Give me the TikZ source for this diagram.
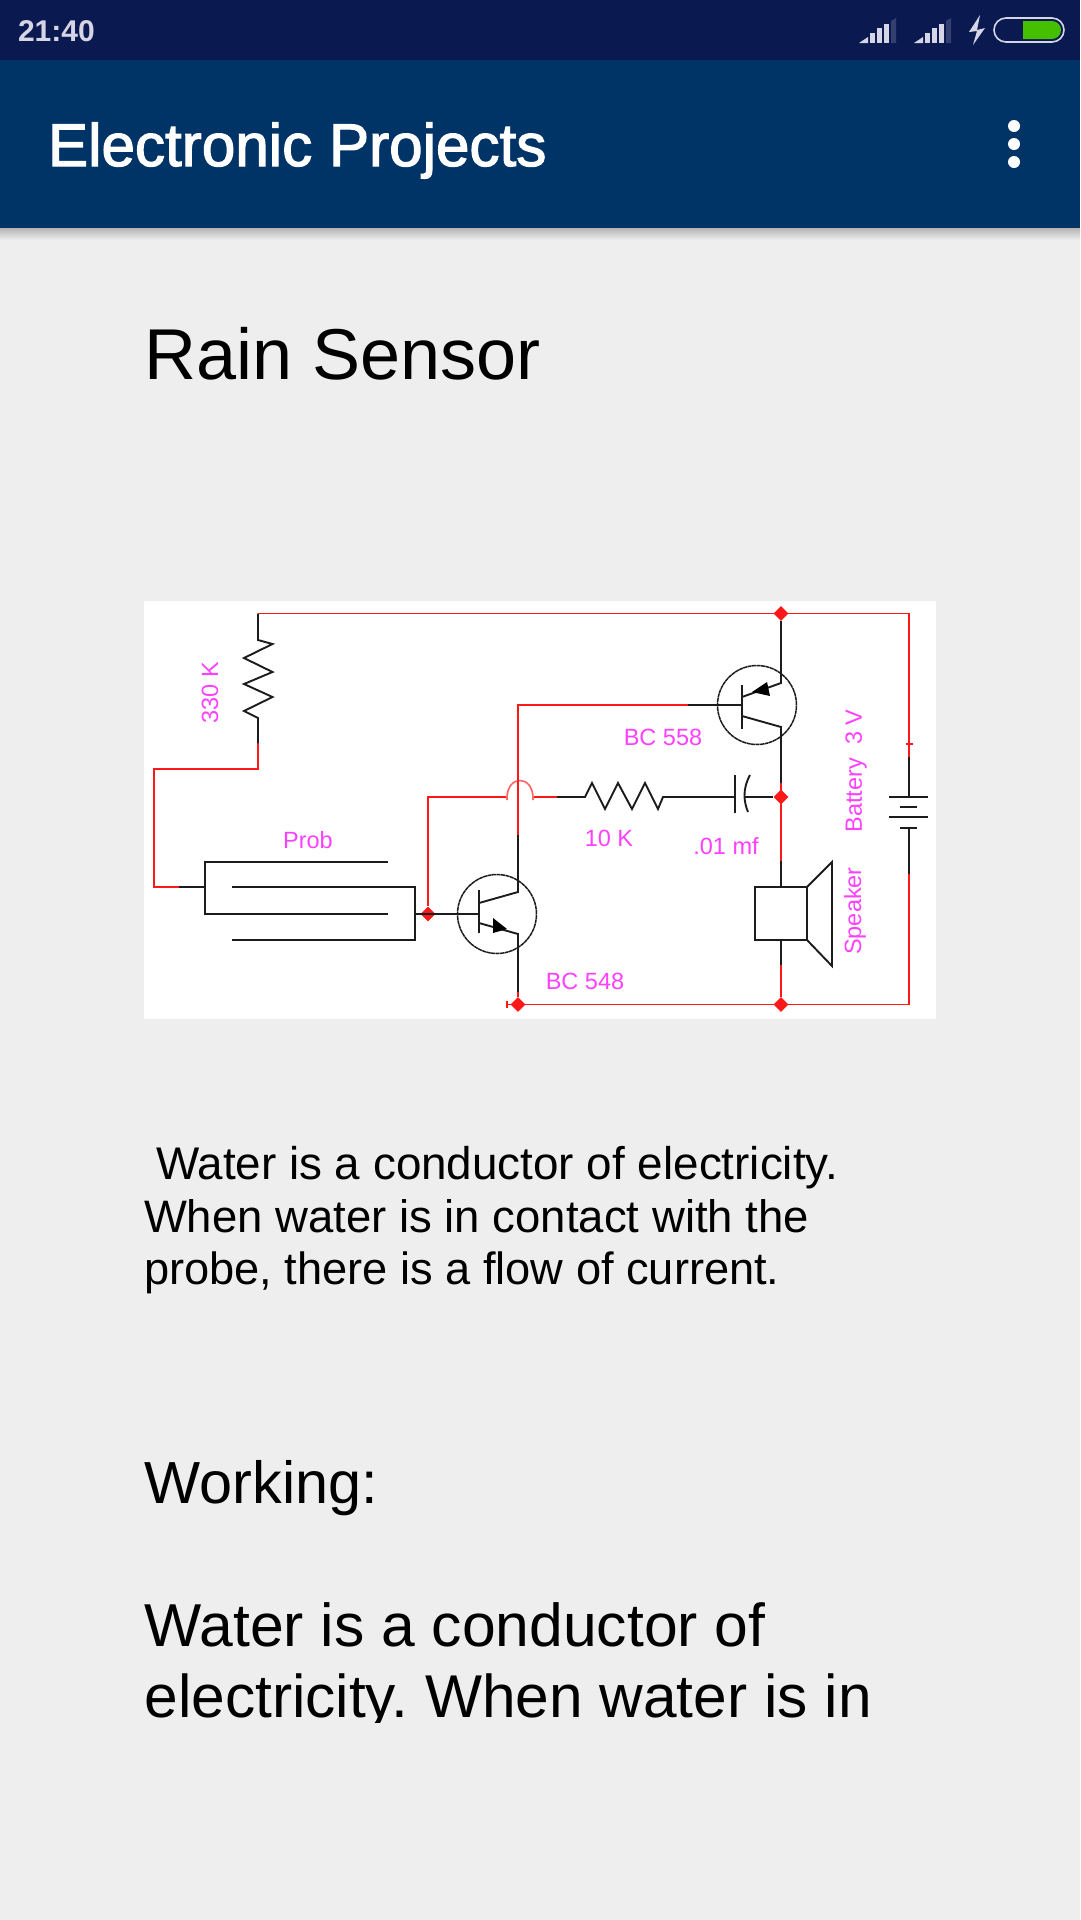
\documentclass[tikz,border=0pt]{standalone}
\usepackage{fontspec}
\usetikzlibrary{shapes.geometric}
\setmainfont{Liberation Sans}
\newfontfamily\medfont[FakeBold=2]{Liberation Sans}
\definecolor{pagebg}{HTML}{EEEEEE}
\definecolor{statusbg}{HTML}{0A1A50}
\definecolor{appbg}{HTML}{003366}
\definecolor{shadowc}{HTML}{B4B4B4}
\definecolor{iconc}{HTML}{D5D5E5}
\definecolor{icondim}{HTML}{333F6E}
\definecolor{battgreen}{HTML}{44C000}
\definecolor{wirered}{HTML}{FF1818}
\definecolor{wireblack}{HTML}{1C1C1C}
\definecolor{labelpink}{HTML}{FF40FF}
\newcommand{\fs}[1]{\fontsize{#1}{#1}\selectfont}
\frenchspacing
\tikzset{
  txt/.style={anchor=base west,inner sep=0pt,outer sep=0pt,text=black},
  redw/.style={draw=wirered,line width=1.9pt,line join=miter},
  blkw/.style={draw=wireblack,line width=1.9pt,line join=miter},
  thinw/.style={draw=wireblack,line width=1.5pt},
  junction/.style={diamond,fill=wirered,inner sep=0pt,minimum size=15pt},
  pinklab/.style={inner sep=0pt,text=labelpink,font=\fs{23.5}},
  bar/.style={fill=iconc},
  dimbar/.style={fill=icondim},
}
\begin{document}
\begin{tikzpicture}[x=1pt,y=-1pt]
\useasboundingbox (0,0) rectangle (1080,1920);
\fill[pagebg] (0,0) rectangle (1080,1920);
% status and app bars
\shade[top color=shadowc,bottom color=pagebg] (0,228) rectangle (1080,240);
\fill[statusbg] (0,0) rectangle (1080,60);
\fill[appbg] (0,60) rectangle (1080,228);
\node[txt,text=iconc,font=\fs{30}\bfseries] (clock) at (18,41) {21:40};
\node[txt,text=white,font=\fs{60.2}\medfont] (apptitle) at (48,166) {Electronic Projects};
\foreach \ox in {0,55}{
  \fill[bar] (859+\ox,43) -- (868+\ox,37) -- (868+\ox,43) -- cycle;
  \fill[bar] (870+\ox,43) rectangle (875+\ox,33);
  \fill[bar] (877+\ox,43) rectangle (882+\ox,28);
  \fill[bar] (884+\ox,43) rectangle (889+\ox,24);
  \fill[dimbar] (891+\ox,43) -- (891+\ox,21) -- (896+\ox,18) -- (896+\ox,43) -- cycle;
}
\fill[iconc] (980,15) -- (969,32) -- (977,31) -- (973,45) -- (985,28) -- (977,30) -- cycle;
\draw[iconc,line width=1.6pt,rounded corners=12pt] (994,18) rectangle (1064,42);
\fill[battgreen] (1023,21) [rounded corners=9pt] -- (1061,21) -- (1061,39) [sharp corners] -- (1023,39) -- cycle;
\foreach \dy in {126,144,162}{\fill[white] (1014,\dy) circle (6pt);}
% page texts
\node[txt,font=\fs{72}] (title) at (144.5,379) {Rain Sensor};
\node[txt,font=\fs{45.8}] (b1) at (156,1179) {Water is a conductor of electricity.};
\node[txt,font=\fs{45.5}] (b2) at (144,1232) {When water is in contact with the};
\node[txt,font=\fs{45.2}] (b3) at (144,1284) {probe, there is a flow of current.};
\node[txt,font=\fs{59.4}] (work) at (144.5,1503) {Working:};
\begin{scope}
\clip (0,1580) rectangle (1080,1722);
\node[txt,font=\fs{60.6}] (w1) at (144.5,1646) {Water is a conductor of};
\node[txt,font=\fs{60.4}] (w2) at (144.5,1717) {electricity. When water is in};
\end{scope}
% circuit panel
\fill[white] (144,601) rectangle (936,1019);
% junctions
\node[junction] (jtop) at (781,613.5) {};
\node[junction] (jmid) at (781,797) {};
\node[junction] (jbot) at (781,1004.5) {};
\node[junction] (jc)   at (518,1004.5) {};
\node[junction] (jb)   at (428,914) {};
% key points
\coordinate (tl) at (258,613.5);
\coordinate (tr) at (909,613.5);
\coordinate (br) at (909,1004.5);
\coordinate (bl) at (507,1004.5);
\coordinate (r1a) at (258,640);
\coordinate (r1b) at (258,718);
\coordinate (r1k) at (258,743);
\coordinate (r1c) at (258,769);
\coordinate (lc) at (154,769);
\coordinate (ld) at (154,887);
\coordinate (pk) at (179,887);
\coordinate (p1) at (205,887);
\coordinate (t2b) at (479,914);
\coordinate (t2c) at (518,892);
\coordinate (t2e) at (518,934);
\coordinate (t1b) at (742,705);
\coordinate (t1e) at (781,683);
\coordinate (t1c) at (781,727);
\coordinate (hopa) at (507,797);
\coordinate (hopb) at (533,797);
% red wires
\draw[redw] (r1k) -- (r1c) -- (lc) -- (ld) -- (pk);
\draw[redw] (tl) -- (tr) -- (909,757);
\draw[redw] (909,874) -- (br) -- (bl);
\draw[redw] (507,1001) -- (507,1008);
\draw[redw] (905.5,744) -- (912.5,744);
\draw[redw] (jb) -- (428,797) -- (hopa);
\draw[redw] (hopb) -- (557,797);
\draw[draw=wirered!65,line width=1.7pt] (hopa) ++(0,3) -- (hopa) .. controls (508,775) and (532,775) .. (hopb) -- ++(0,3);
\draw[redw] (518,835) -- (518,705) -- (688,705);
\draw[redw] (781,783) -- (781,861);
\draw[redw] (781,965) -- (jbot);
\draw[redw] (518,992) -- (jc);
% black wires
\draw[blkw] (tl) -- (r1a) -- (272.5,644) -- (244,658) -- (272.5,672) -- (244,684) -- (272.5,697) -- (244,711) -- (r1b) -- (r1k);
\draw[blkw] (pk) -- (p1);
\draw[blkw] (388,862) -- (205,862) -- (205,914) -- (388,914);
\draw[blkw] (232,887) -- (415,887) -- (415,940) -- (232,940);
\draw[blkw] (415,914) -- (t2b);
\draw[blkw] (557,797) -- (585,797) -- (592,783) -- (605,809) -- (618,783) -- (632,809) -- (645,783) -- (658,809) -- (663,797) -- (735,797);
\draw[blkw] (735,775) -- (735,813);
\draw[blkw] (750,775) .. controls (742,790) and (744,802) .. (748,812);
\draw[blkw] (745,797) -- (jmid);
% top transistor
\draw[thinw,dash pattern=on 4pt off 0.5pt] (757,705) circle (39.5pt);
\draw[blkw] (688,705) -- (t1b);
\draw[blkw] (742,685) -- (742,729);
\draw[blkw] (742,697) -- (t1e) -- (jtop);
\draw[blkw] (742,716) -- (t1c) -- (781,783);
\fill[black] (752,692) -- (767,682) -- (770,696) -- cycle;
% bottom transistor
\draw[thinw,dash pattern=on 4pt off 0.5pt] (497,914) circle (39.5pt);
\draw[blkw] (479,890) -- (479,933);
\draw[blkw] (479,903) -- (t2c) -- (518,835);
\draw[blkw] (479,923) -- (t2e) -- (518,992);
\fill[black] (493,918) -- (507,929) -- (493,933) -- cycle;
% speaker
\draw[blkw] (781,861) -- (781,887);
\draw[blkw] (755,887) rectangle (807,940);
\draw[blkw] (807,887) -- (832,862) -- (832,966) -- (807,940);
\draw[blkw] (781,940) -- (781,965);
% battery
\draw[blkw] (909,757) -- (909,797);
\draw[blkw] (889,797) -- (928,797);
\draw[blkw] (900,807) -- (917,807);
\draw[blkw] (889,817) -- (928,817);
\draw[blkw] (900,828) -- (917,828);
\draw[blkw] (909,828) -- (909,874);
% labels
\node[pinklab,rotate=90] (l330) at (210,692.5) {330 K};
\node[pinklab] (lprob) at (308,840) {Prob};
\node[pinklab] (l558) at (663,737) {BC 558};
\node[pinklab] (l548) at (585,981) {BC 548};
\node[pinklab] (l10k) at (609,838) {10 K};
\node[pinklab] (lcap) at (726,846) {.01 mf};
\node[pinklab,rotate=90] (lbat) at (856,771) {Battery\ \ 3 V};
\node[pinklab,rotate=90] (lspk) at (855,911) {Speaker};
\end{tikzpicture}
\end{document}
